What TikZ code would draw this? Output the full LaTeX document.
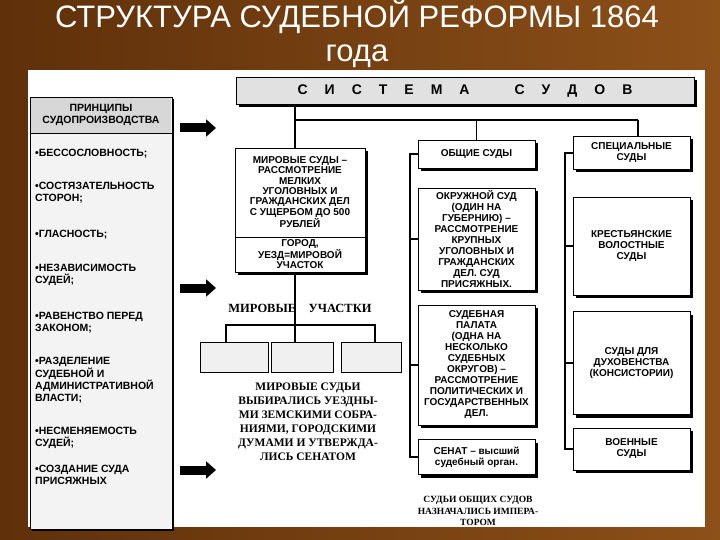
\documentclass[tikz,border=0pt]{standalone}
\usepackage{fontspec}
\setmainfont{Liberation Sans}
\newfontfamily\serifru{Liberation Serif}
\usetikzlibrary{shadows,arrows.meta}
\definecolor{bgdark}{RGB}{95,48,10}
\definecolor{bglight}{RGB}{140,80,25}
\definecolor{hdrgray}{RGB}{225,225,225}
\definecolor{prgray}{RGB}{243,243,243}
\definecolor{prhgray}{RGB}{215,215,215}
\definecolor{ugray}{RGB}{240,240,240}
\begin{document}
\begin{tikzpicture}[x=1pt,y=-1pt,
  bx/.style={draw=black,thick,fill=white,align=center,font=\bfseries\fontsize{10}{11}\selectfont,inner sep=1pt,
    drop shadow={shadow xshift=3pt,shadow yshift=-3pt,fill=black,opacity=1}},
  item/.style={anchor=north west,align=left,font=\bfseries\fontsize{10.5}{11.5}\selectfont,inner sep=0pt},
  bigarrow/.style={line width=9pt,-{Triangle[length=10pt,width=17pt]}},
  ln/.style={line width=1.6pt},
  ubox/.style={draw=black,thick,fill=ugray,minimum height=30pt}]
\useasboundingbox (0,0) rectangle (720,540);
\fill[left color=bgdark,right color=bglight] (0,0) rectangle (720,540);
\node[text=white,font=\fontsize{31}{34}\selectfont,align=center] (title) at (357,34) {СТРУКТУРА СУДЕБНОЙ РЕФОРМЫ 1864\\года};
\fill[white] (28,70) rectangle (705,527);
% header
\node[bx,fill=hdrgray,minimum width=458pt,minimum height=27pt,font=\bfseries\fontsize{14}{15}\selectfont] (sys) at (465,91) {С\hspace{17pt}И\hspace{17pt}С\hspace{17pt}Т\hspace{17pt}Е\hspace{17pt}М\hspace{17pt}А\hspace{45pt}С\hspace{17pt}У\hspace{17pt}Д\hspace{17pt}О\hspace{17pt}В};
% principles
\node[draw=black,thick,fill=prgray,minimum width=142pt,minimum height=432pt,anchor=north west,
  drop shadow={shadow xshift=2pt,shadow yshift=-2pt,fill=black,opacity=1}] (pr) at (30,97) {};
\fill[prhgray] (30.8,97.8) rectangle (171.2,133);
\draw[thick] (30,133) -- (172,133);
\node[font=\bfseries\fontsize{10.5}{11.5}\selectfont,align=center] (prh) at (101,115) {ПРИНЦИПЫ\\СУДОПРОИЗВОДСТВА};
\node[item] (i1) at (35,149) {•БЕССОСЛОВНОСТЬ;};
\node[item] (i2) at (35,182) {•СОСТЯЗАТЕЛЬНОСТЬ\\СТОРОН;};
\node[item] (i3) at (35,230) {•ГЛАСНОСТЬ;};
\node[item] (i4) at (35,264) {•НЕЗАВИСИМОСТЬ\\СУДЕЙ;};
\node[item] (i5) at (35,312) {•РАВЕНСТВО ПЕРЕД\\ЗАКОНОМ;};
\node[item] (i6) at (35,357) {•РАЗДЕЛЕНИЕ\\СУДЕБНОЙ И\\АДМИНИСТРАТИВНОЙ\\ВЛАСТИ;};
\node[item] (i7) at (35,427) {•НЕСМЕНЯЕМОСТЬ\\СУДЕЙ;};
\node[item] (i8) at (35,465) {•СОЗДАНИЕ СУДА\\ПРИСЯЖНЫХ};
% arrows
\coordinate (a1s) at (180,128); \coordinate (a1e) at (216,128);
\coordinate (a2s) at (180,288); \coordinate (a2e) at (216,288);
\coordinate (a3s) at (180,470); \coordinate (a3e) at (216,470);
\draw[bigarrow] (a1s) -- (a1e);
\draw[bigarrow] (a2s) -- (a2e);
\draw[bigarrow] (a3s) -- (a3e);
% mirovye
\node[bx,minimum width=130pt,minimum height=124pt,anchor=north west] (mir) at (235,148) {};
\draw[thick] (235,237) -- (365,237);
\node[font=\bfseries\fontsize{10}{10.3}\selectfont,align=center] (mirt) at (300,192) {МИРОВЫЕ СУДЫ –\\РАССМОТРЕНИЕ\\МЕЛКИХ\\УГОЛОВНЫХ И\\ГРАЖДАНСКИХ ДЕЛ\\С УЩЕРБОМ ДО 500\\РУБЛЕЙ};
\node[font=\bfseries\fontsize{10}{10.5}\selectfont,align=center] (mirb) at (300,254) {ГОРОД,\\УЕЗД=МИРОВОЙ\\УЧАСТОК};
% general courts
\node[bx,minimum width=117pt,minimum height=28pt] (ob) at (476.5,154) {ОБЩИЕ СУДЫ};
\node[bx,minimum width=117pt,minimum height=102pt] (ok) at (476.5,239) {ОКРУЖНОЙ СУД\\(ОДИН НА\\ГУБЕРНИЮ) –\\РАССМОТРЕНИЕ\\КРУПНЫХ\\УГОЛОВНЫХ И\\ГРАЖДАНСКИХ\\ДЕЛ. СУД\\ПРИСЯЖНЫХ.};
\node[bx,minimum width=117pt,minimum height=120pt] (pal) at (476.5,365) {СУДЕБНАЯ\\ПАЛАТА\\(ОДНА НА\\НЕСКОЛЬКО\\СУДЕБНЫХ\\ОКРУГОВ) –\\РАССМОТРЕНИЕ\\ПОЛИТИЧЕСКИХ И\\ГОСУДАРСТВЕННЫХ\\ДЕЛ.};
\node[bx,minimum width=117pt,minimum height=35pt] (sen) at (476.5,457) {СЕНАТ – высший\\судебный орган.};
% special courts
\node[bx,minimum width=117pt,minimum height=33pt] (sp) at (631.5,153) {СПЕЦИАЛЬНЫЕ\\СУДЫ};
\node[bx,minimum width=117pt,minimum height=98pt] (kr) at (631.5,246) {КРЕСТЬЯНСКИЕ\\ВОЛОСТНЫЕ\\СУДЫ};
\node[bx,minimum width=117pt,minimum height=103pt] (dux) at (631.5,363) {СУДЫ ДЛЯ\\ДУХОВЕНСТВА\\(КОНСИСТОРИИ)};
\node[bx,minimum width=117pt,minimum height=42pt] (voen) at (631.5,449) {ВОЕННЫЕ\\СУДЫ};
% connectors top
\coordinate (hL) at (295,120); \coordinate (hM) at (476.5,120); \coordinate (hR) at (638,120);
\draw[ln] (hL) -- (hR);
\draw[ln] (hL) -- (mir.north -| hL);
\draw[ln] (hM) -- (ob.north);
\draw[ln] (hR) -- (sp.north -| hR);
\draw[ln] (sys.south -| hL) -- (hL);
% brackets
\coordinate (gb1) at (410,154); \coordinate (gb2) at (410,457);
\draw[ln] (ob.west) -- (gb1) -- (gb2) -- (sen.west);
\draw[ln] (ok.west) -- (ok.west -| gb1);
\draw[ln] (pal.west) -- (pal.west -| gb1);
\coordinate (sb1) at (565,153); \coordinate (sb2) at (565,449);
\draw[ln] (sp.west) -- (sb1) -- (sb2) -- (voen.west);
\draw[ln] (kr.west) -- (kr.west -| sb1);
\draw[ln] (dux.west) -- (dux.west -| sb1);
% mirovye uchastki
\node[font=\serifru\bfseries\fontsize{12.5}{13}\selectfont] (mu) at (300,308) {МИРОВЫЕ\quad УЧАСТКИ};
\node[ubox,minimum width=68pt] (u1) at (234,357) {};
\node[ubox,minimum width=62pt] (u2) at (302,357) {};
\node[ubox,minimum width=60pt] (u3) at (371,357) {};
\coordinate (mh) at (295,325); \coordinate (ml) at (226,325); \coordinate (mr) at (375,325);
\draw[ln] (mir.south -| mh) -- (mh);
\draw[ln] (u1.north -| ml) -- (ml) -- (mr) -- (u3.north -| mr);
\draw[ln] (mh) -- (u2.north -| mh);
\node[font=\serifru\bfseries\fontsize{11.5}{14}\selectfont,align=center] (mtxt) at (308,422) {МИРОВЫЕ СУДЬИ\\ВЫБИРАЛИСЬ УЕЗДНЫ-\\МИ ЗЕМСКИМИ СОБРА-\\НИЯМИ, ГОРОДСКИМИ\\ДУМАМИ И УТВЕРЖДА-\\ЛИСЬ СЕНАТОМ};
\node[font=\serifru\bfseries\fontsize{9.5}{11.5}\selectfont,align=center] (gtxt) at (478,511) {СУДЬИ ОБЩИХ СУДОВ\\НАЗНАЧАЛИСЬ ИМПЕРА-\\ТОРОМ};
\end{tikzpicture}
\end{document}
